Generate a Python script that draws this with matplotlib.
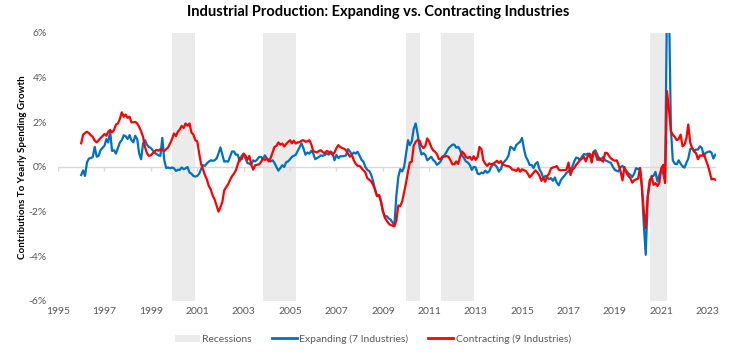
import numpy as np
import pandas as pd
import matplotlib
matplotlib.use("Agg")
import matplotlib.pyplot as plt
import matplotlib.patches as mpatches
import matplotlib.lines as mlines

################################################################################
# Data (monthly, Jan 1996 - May 2023, % contribution)
################################################################################
START = "1996-01-01"

contracting = [
    1.06, 1.45, 1.52, 1.58, 1.52, 1.42, 1.35, 1.18, 1.10, 1.20, 1.30, 1.38,
    1.48, 1.40, 1.58, 1.66, 1.55, 1.66, 1.90, 1.95, 2.15, 2.45, 2.25, 2.35,
    2.20, 2.25, 2.00, 2.00, 2.02, 1.95, 1.80, 1.60, 1.35, 0.90, 0.62, 0.50,
    0.52, 0.62, 0.70, 0.77, 0.73, 0.80, 0.76, 0.72, 0.80, 0.88, 1.06, 1.25,
    1.50, 1.38, 1.58, 1.68, 1.84, 1.75, 1.95, 1.85, 1.95, 1.55, 1.45, 1.20,
    1.15, 0.60, 0.15, -0.10, -0.36, -0.55, -0.85, -1.00, -1.28, -1.45, -1.72, -2.00,
    -1.80, -1.55, -1.05, -0.90, -0.78, -0.58, -0.42, -0.30, -0.15, 0.12, 0.40, 0.35,
    0.60, 0.50, 0.32, 0.50, 0.10, -0.12, 0.08, 0.10, 0.12, 0.22, 0.38, 0.32,
    0.36, 0.25, 0.40, 0.65, 0.90, 0.95, 1.10, 1.00, 1.05, 0.92, 1.03, 1.12,
    1.20, 1.06, 1.18, 1.05, 1.10, 1.12, 1.18, 1.20, 1.13, 1.15, 1.20, 1.02,
    0.70, 0.68, 0.65, 0.72, 0.75, 0.66, 0.62, 0.72, 0.68, 0.62, 0.55, 0.65,
    0.85, 0.98, 0.90, 0.85, 0.82, 0.75, 0.60, 0.46, 0.54, 0.30, 0.14, 0.05,
    0.05, -0.05, -0.14, -0.25, -0.50, -0.57, -0.65, -0.80, -1.03, -1.30, -1.25, -1.55,
    -1.95, -2.27, -2.40, -2.52, -2.60, -2.62, -2.66, -2.40, -1.72, -1.75, -1.55, -1.12,
    -0.70, -0.20, 0.20, 0.24, 0.95, 1.13, 1.21, 1.18, 0.95, 0.84, 0.95, 1.28,
    1.13, 0.90, 0.75, 0.69, 0.58, 0.35, 0.36, 0.48, 0.47, 0.49, 0.46, 0.30,
    0.12, 0.12, 0.25, 0.14, 0.46, 0.69, 0.60, 0.45, 0.40, 0.46, 0.32, 0.48,
    0.32, 0.45, 0.90, 0.80, 0.30, 0.15, 0.05, 0.16, 0.12, 0.15, 0.20, 0.28,
    0.18, 0.27, 0.12, 0.08, 0.05, 0.04, -0.01, -0.12, -0.12, -0.18, -0.06, -0.21,
    -0.10, -0.14, -0.18, -0.30, -0.46, -0.36, -0.25, -0.15, -0.24, -0.38, -0.62, -0.48,
    -0.66, -0.40, -0.30, -0.06, -0.02, 0.00, 0.04, -0.12, -0.15, -0.14, -0.14, -0.12,
    0.20, -0.36, -0.12, -0.05, 0.10, 0.20, 0.31, 0.38, 0.45, 0.25, 0.50, 0.60,
    0.20, 0.68, 0.60, 0.32, 0.42, 0.30, 0.24, 0.64, 0.62, 0.50, 0.38, 0.32,
    0.28, 0.30, 0.08, -0.20, -0.60, 0.00, -0.25, -0.40, -0.50, -0.70, -0.60, -0.55,
    -0.52, -0.05, -0.85, -2.00, -2.73, -1.30, -0.60, -0.45, -0.80, -0.72, -0.85, -0.70,
    -0.05, 0.10, -0.72, 3.40, 2.60, 1.60, 1.45, 1.35, 1.20, 1.25, 1.45, 0.93,
    1.00, 1.30, 1.90, 1.10, 0.85, 0.70, 0.62, 0.35, 0.52, 0.50, 0.60, 0.33,
    0.10, -0.20, -0.55, -0.53, -0.57,
]

expanding = [
    -0.36, -0.15, -0.40, 0.20, 0.38, 0.40, 0.45, 0.90, 0.46, 0.50, 0.76, 0.85,
    0.95, 1.25, 1.10, 1.60, 0.72, 0.75, 0.60, 0.85, 1.10, 1.20, 1.42, 1.38,
    1.25, 1.43, 1.20, 1.10, 1.40, 1.25, 0.61, 0.35, 1.05, 1.20, 1.00, 0.90,
    0.85, 0.75, 0.65, 0.58, 0.52, 0.50, 1.30, 0.30, -0.05, -0.02, -0.06, -0.02,
    -0.06, -0.18, -0.12, -0.13, -0.02, -0.10, -0.06, 0.00, -0.25, -0.30, -0.40, -0.43,
    -0.40, -0.30, -0.10, 0.08, 0.05, 0.16, 0.24, 0.30, 0.28, 0.30, 0.38, 0.60,
    0.88, 0.55, 0.24, 0.26, 0.24, 0.45, 0.69, 0.70, 0.55, 0.55, 0.25, 0.50,
    0.58, 0.38, 0.18, 0.15, 0.10, 0.30, 0.25, 0.33, 0.45, 0.45, 0.35, 0.52,
    0.40, 0.30, 0.25, 0.30, 0.18, 0.00, -0.16, -0.05, 0.08, 0.00, 0.22, 0.25,
    0.35, 0.46, 0.50, 0.55, 0.72, 0.90, 1.06, 0.82, 0.55, 0.65, 0.60, 0.72,
    0.60, 0.35, 0.40, 0.45, 0.52, 0.50, 0.54, 0.61, 0.55, 0.70, 0.62, 0.30,
    0.54, 0.40, 0.48, 0.48, 0.49, 0.52, 0.80, 0.70, 0.55, 0.65, 0.60, 0.68,
    0.50, 0.32, 0.24, 0.00, -0.13, -0.18, -0.35, -0.64, -1.03, -1.30, -1.25, -1.50,
    -2.00, -2.20, -2.20, -2.30, -2.35, -2.48, -2.62, -1.30, -0.45, -0.10, -0.20, 0.00,
    0.61, 1.20, 0.98, 1.15, 1.70, 1.95, 1.50, 0.90, 0.56, 0.62, 0.54, 0.30,
    0.38, 0.46, 0.33, 0.24, 0.10, 0.16, 0.26, 0.43, 0.54, 0.68, 0.84, 0.92,
    1.00, 1.00, 0.86, 0.90, 0.76, 0.52, 0.40, 0.25, 0.20, 0.09, -0.13, 0.01,
    -0.02, -0.30, -0.32, -0.25, -0.28, -0.16, -0.26, -0.20, 0.00, 0.12, 0.09, 0.00,
    -0.20, -0.10, 0.15, 0.25, 0.35, 0.50, 0.90, 0.85, 0.76, 0.98, 1.06, 1.13,
    1.30, 0.80, 0.46, 0.30, 0.09, 0.09, -0.05, 0.15, 0.22, -0.10, -0.25, -0.50,
    -0.40, -0.45, -0.55, -0.50, -0.62, -0.47, -0.70, -0.82, -0.60, -0.48, -0.38, -0.26,
    -0.20, -0.10, 0.00, 0.25, 0.42, 0.40, 0.31, 0.46, 0.58, 0.55, 0.60, 0.46,
    0.50, 0.68, 0.75, 0.55, 0.30, 0.35, 0.45, 0.30, 0.26, 0.22, 0.18, 0.00,
    -0.13, -0.17, -0.20, 0.00, 0.05, -0.08, -0.18, -0.28, -0.35, -0.45, -0.30, -0.05,
    -0.10, -0.05, -0.90, -2.60, -3.93, -1.35, -0.80, -0.40, -0.40, -0.22, -0.64, -0.37,
    -0.12, -0.30, -0.64, 7.50, 7.50, 1.70, 0.30, 0.15, 0.12, 0.30, 0.15, 0.03,
    -0.03, 0.20, 0.37, 0.80, 0.85, 0.70, 0.78, 0.78, 0.93, 0.85, 0.50, 0.63,
    0.67, 0.70, 0.65, 0.38, 0.55,
]

recessions = [
    ("1999-12-01", "2000-12-01"),
    ("2003-11-01", "2005-04-01"),
    ("2010-01-01", "2010-08-01"),
    ("2011-07-01", "2012-12-01"),
    ("2020-07-01", "2021-04-01"),
]

tick_years = list(range(1995, 2024, 2))
y_ticks = [-6, -4, -2, 0, 2, 4, 6]

dates = pd.date_range(START, periods=len(contracting), freq="MS")

################################################################################
# Plot
################################################################################
plt.rcParams["font.family"] = ["Lato", "DejaVu Sans"]
BLUE = "#0070C0"
RED = "#FF0000"
GREY = "#EBEBEB"
TXT = "#595959"

fig = plt.figure(figsize=(7.56, 3.61), dpi=100)
ax = fig.add_axes([58 / 756, 60 / 361, 658 / 756, 268 / 361])

for start, end in recessions:
    ax.axvspan(pd.Timestamp(start), pd.Timestamp(end), color=GREY, lw=0, zorder=0)

tick_dates = [pd.Timestamp(f"{y}-01-01") for y in tick_years]
ax.axhline(0, color="#D9D9D9", lw=1, zorder=1)
ax.vlines(tick_dates, -0.17, 0, color="#D9D9D9", lw=1, zorder=1)

ax.plot(dates, expanding, color=BLUE, lw=1.6, zorder=3, solid_joinstyle="round")
ax.plot(dates, contracting, color=RED, lw=1.6, zorder=4, solid_joinstyle="round")

ax.set_xlim(pd.Timestamp("1995-01-01"), pd.Timestamp("2023-05-12"))
ax.set_ylim(-6, 6)
ax.set_xticks(tick_dates)
ax.set_xticklabels([str(y) for y in tick_years])
ax.set_yticks(y_ticks)
ax.set_yticklabels([f"{v}%" for v in y_ticks])
ax.tick_params(length=0, labelsize=7.5, labelcolor=TXT)
ax.tick_params(axis="x", pad=4)
ax.tick_params(axis="y", pad=8)
for s in ax.spines.values():
    s.set_visible(False)

ax.set_ylabel("Contributions To Yearly Spending Growth", fontsize=7,
              fontweight="bold", color="black", labelpad=1.5)

fig.suptitle("Industrial Production: Expanding vs. Contracting Industries",
             x=0.5, y=0.985, fontsize=10.5, fontweight="bold")

h_rec = mpatches.Patch(color=GREY, lw=0)
h_exp = mlines.Line2D([], [], color=BLUE, lw=2)
h_con = mlines.Line2D([], [], color=RED, lw=2)
leg = fig.legend(handles=[h_rec, h_exp, h_con],
                 labels=["Recessions", "Expanding (7 Industries)",
                         "Contracting (9 Industries)"],
                 loc="center", bbox_to_anchor=(0.493, 0.06), ncol=3,
                 frameon=False, fontsize=7.5, handlelength=2.4,
                 handletextpad=0.25, columnspacing=1.9, handleheight=0.7)
for t in leg.get_texts():
    t.set_color(TXT)

fig.savefig("out.png", dpi=100)
